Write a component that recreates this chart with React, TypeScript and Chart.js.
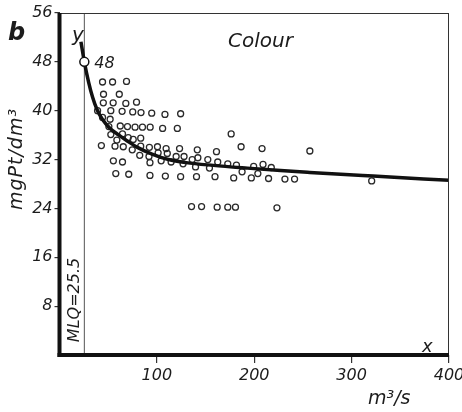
import React, { useEffect, useRef } from 'react';
import { Chart, registerables } from 'chart.js';

Chart.register(...registerables);

// Observed points (discharge m3/s, colour mgPt/dm3)
const scatterX = [
  44.2, 54.5, 68.8,
  45.2, 61.4,
  45.0, 55.1, 68.1, 79.1,
  39.1, 52.7, 64.3, 75.2, 83.7, 94.7, 108.3, 124.4,
  44.2, 52.0,
  50.7, 62.4, 69.8, 77.6, 85.2, 93.1, 105.9, 121.0,
  52.7, 64.7, 70.6, 75.7, 83.4, 58.9, 176.3,
  43.0, 57.0, 65.5, 74.7, 83.4, 92.3, 100.6, 109.5, 123.3, 141.5, 161.2, 186.5, 208.0, 257.1,
  82.4, 91.9, 101.3, 110.7, 119.8, 127.9, 136.3, 142.1, 152.3, 162.5, 172.8, 181.7, 199.4, 209.0, 217.5,
  55.3, 64.7, 92.9, 104.4, 114.6, 126.9, 139.7, 154.0, 187.5, 203.7,
  57.8, 71.1, 92.9, 108.7, 124.4, 140.7, 159.7, 178.9, 197.0, 214.7, 231.5, 241.4, 320.6,
  135.6, 145.9, 161.9, 172.8, 180.7, 223.3,
];
const scatterY = [
  44.7, 44.7, 44.8,
  42.7, 42.7,
  41.3, 41.3, 41.2, 41.4,
  40.0, 40.0, 39.9, 39.8, 39.7, 39.6, 39.4, 39.5,
  38.9, 38.6,
  37.4, 37.5, 37.4, 37.3, 37.3, 37.3, 37.1, 37.1,
  36.1, 36.2, 35.6, 35.3, 35.5, 35.2, 36.2,
  34.3, 34.2, 34.1, 33.6, 34.2, 34.0, 34.1, 33.8, 33.8, 33.6, 33.3, 34.1, 33.8, 33.4,
  32.7, 32.5, 33.1, 33.0, 32.5, 32.5, 32.0, 32.3, 32.0, 31.6, 31.3, 31.1, 30.9, 31.2, 30.7,
  31.8, 31.6, 31.5, 31.8, 31.6, 31.3, 30.8, 30.6, 30.0, 29.7,
  29.7, 29.6, 29.4, 29.3, 29.2, 29.2, 29.2, 29.0, 29.0, 28.9, 28.8, 28.8, 28.5,
  24.3, 24.3, 24.2, 24.2, 24.2, 24.1,
];

// Fitted curve
const curveX = [22, 25.5, 30, 34, 38.5, 44, 52, 61, 70, 80, 95, 112, 130, 158, 193, 227, 257, 322, 400];
const curveY = [51.3, 48, 44.6, 42.2, 40.2, 38.6, 37.1, 36.0, 35.0, 34.0, 32.9, 32.0, 31.5, 31.05, 30.6, 30.2, 29.9, 29.3, 28.6];

const mlqValue = 25.5;
const markX = [25.5];
const markY = [48];
const xTickValues = [0, 100, 200, 300, 400];
const yTickValues = [0, 8, 16, 24, 32, 40, 48, 56];

const INK = '#1c1c1c';
const FONT = '"DejaVu Sans", sans-serif';

export default function App() {
  const ref = useRef<HTMLCanvasElement>(null);

  useEffect(() => {
    const canvas = ref.current;
    if (!canvas) return;

    const framePlugin = {
      id: 'frame',
      afterDatasetsDraw(chart: any) {
        const { ctx, chartArea } = chart;
        const { left, right, top, bottom } = chartArea;
        ctx.save();
        ctx.fillStyle = '#111';
        ctx.strokeStyle = '#333';
        ctx.lineWidth = 1;
        ctx.beginPath();
        ctx.moveTo(left, top + 0.5);
        ctx.lineTo(right, top + 0.5);
        ctx.moveTo(right - 0.5, top);
        ctx.lineTo(right - 0.5, bottom);
        ctx.stroke();
        ctx.fillRect(left - 2, top, 4, bottom - top + 2);
        ctx.fillRect(left - 2, bottom - 2, right - left + 2, 4);
        ctx.restore();
      },
      afterDraw(chart: any) {
        const { ctx, scales } = chart;
        ctx.save();
        ctx.fillStyle = INK;
        ctx.textBaseline = 'alphabetic';
        ctx.textAlign = 'left';

        ctx.font = `italic bold 24px ${FONT}`;
        ctx.fillText('b', 8, 40);

        ctx.font = `italic 20px ${FONT}`;
        ctx.fillText('y', 72, 41);

        ctx.font = `italic 16px ${FONT}`;
        ctx.fillText('48', scales.x.getPixelForValue(markX[0]) + 10, scales.y.getPixelForValue(markY[0]) + 6);

        ctx.font = `italic 20px ${FONT}`;
        ctx.fillText('Colour', 228, 47);

        ctx.font = `italic 18px ${FONT}`;
        ctx.fillText('x', 422, 352);

        ctx.font = `italic 19px ${FONT}`;
        ctx.fillText('m³/s', 368, 404);

        // y-axis title
        ctx.save();
        ctx.translate(22, 159);
        ctx.rotate(-Math.PI / 2);
        ctx.textAlign = 'center';
        ctx.font = `italic 19px ${FONT}`;
        (ctx as any).letterSpacing = '1px';
        ctx.fillText('mgPt/dm³', 0, 0);
        ctx.restore();

        // MLQ label
        ctx.save();
        ctx.translate(scales.x.getPixelForValue(mlqValue) - 5, 300);
        ctx.rotate(-Math.PI / 2);
        ctx.textAlign = 'center';
        ctx.font = `italic 16px ${FONT}`;
        ctx.fillText('MLQ=25.5', 0, 0);
        ctx.restore();

        ctx.restore();
      },
    };

    const chart = new Chart(canvas, {
      type: 'scatter',
      data: {
        datasets: [
          {
            type: 'scatter',
            label: 'Colour',
            data: scatterX.map((x, i) => ({ x, y: scatterY[i] })),
            pointRadius: 3,
            pointBorderWidth: 1.3,
            pointBorderColor: '#2a2a2a',
            pointBackgroundColor: 'rgba(0,0,0,0)',
            order: 2,
          },
          {
            type: 'line',
            label: 'curve',
            data: curveX.map((x, i) => ({ x, y: curveY[i] })),
            borderColor: '#111',
            borderWidth: 3.5,
            pointRadius: 0,
            cubicInterpolationMode: 'monotone',
            fill: false,
            order: 1,
          },
          {
            type: 'line',
            label: 'MLQ',
            data: [
              { x: mlqValue, y: 0 },
              { x: mlqValue, y: 56 },
            ],
            borderColor: '#555',
            borderWidth: 1,
            pointRadius: 0,
            fill: false,
            order: 3,
          },
          {
            type: 'scatter',
            label: 'mark',
            data: markX.map((x, i) => ({ x, y: markY[i] })),
            pointRadius: 4.5,
            pointBorderWidth: 1.5,
            pointBorderColor: '#111',
            pointBackgroundColor: '#fff',
            order: 0,
          },
        ],
      } as any,
      options: {
        responsive: false,
        animation: false,
        events: [],
        layout: { padding: { left: 0, right: 13, top: 13, bottom: 0 } },
        plugins: {
          legend: { display: false },
          tooltip: { enabled: false },
          title: { display: false },
        },
        scales: {
          x: {
            type: 'linear',
            min: 0,
            max: 400,
            afterBuildTicks: (s: any) => {
              s.ticks = xTickValues.map((v) => ({ value: v }));
            },
            afterFit: (s: any) => {
              s.height = 57;
              s.paddingLeft = 0;
              s.paddingRight = 0;
            },
            border: { display: false },
            grid: {
              display: true,
              drawOnChartArea: false,
              drawTicks: true,
              tickLength: 8,
              lineWidth: 1.2,
              color: (c: any) => (c.tick && c.tick.value === 0 ? 'rgba(0,0,0,0)' : '#333'),
            },
            ticks: {
              padding: 3,
              color: INK,
              maxRotation: 0,
              font: { family: FONT, size: 16, style: 'italic' },
              callback: (v: any) => (v === 0 ? '' : String(v)),
            },
          },
          y: {
            type: 'linear',
            min: 0,
            max: 56,
            afterBuildTicks: (s: any) => {
              s.ticks = yTickValues.map((v) => ({ value: v }));
            },
            afterFit: (s: any) => {
              s.width = 59.5;
              s.paddingTop = 0;
              s.paddingBottom = 0;
            },
            border: { display: false },
            grid: {
              display: true,
              drawOnChartArea: false,
              drawTicks: true,
              tickLength: 5,
              lineWidth: 1.2,
              color: (c: any) => (c.tick && c.tick.value === 0 ? 'rgba(0,0,0,0)' : '#333'),
            },
            ticks: {
              padding: 2,
              color: INK,
              font: { family: FONT, size: 16, style: 'italic' },
              callback: (v: any) => (v === 0 ? '' : String(v)),
            },
          },
        },
      } as any,
      plugins: [framePlugin],
    });

    return () => chart.destroy();
  }, []);

  return (
    <div style={{ position: 'absolute', left: 0, top: 0, width: 462, height: 412, background: '#fff' }}>
      <canvas ref={ref} width={462} height={412} style={{ width: 462, height: 412, display: 'block' }} />
    </div>
  );
}
